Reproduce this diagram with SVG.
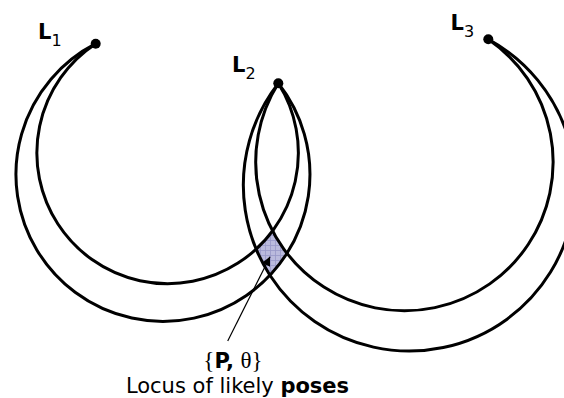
<svg xmlns="http://www.w3.org/2000/svg" width="564" height="398" viewBox="0 0 564 398">
<style>
.arc{fill:none;stroke:#000;stroke-width:3}
.dot{fill:#000}
.lbl{font-family:"DejaVu Sans",Verdana,sans-serif;font-size:21px;font-weight:bold;fill:#000}
.sub{font-weight:normal;font-size:16px}
.cap{font-family:"DejaVu Sans",Verdana,sans-serif;font-size:21px;fill:#000}
.serif{font-family:"Liberation Serif","Times New Roman",serif;font-weight:normal;font-size:23px}
.b{font-weight:bold}
</style>
<defs>
<pattern id="hatch" width="5" height="5" patternUnits="userSpaceOnUse">
<rect width="5" height="5" fill="#babadd"/>
<path d="M0 0.5H5M0.5 0V5" stroke="#9898c8" stroke-width="0.8"/>
</pattern>
<clipPath id="clipA"><path clip-rule="evenodd" d="M15.95 174.4a147 147 0 1 0 294 0a147 147 0 1 0 -294 0ZM36.85 152.9a130.75 130.75 0 1 0 261.5 0a130.75 130.75 0 1 0 -261.5 0Z"/></clipPath>
<clipPath id="clipB"><path clip-rule="evenodd" d="M243.3 185.1a165.9 165.9 0 1 0 331.8 0a165.9 165.9 0 1 0 -331.8 0ZM255.7 162.1a148.7 148.7 0 1 0 297.4 0a148.7 148.7 0 1 0 -297.4 0Z"/></clipPath>
<marker id="ah" viewBox="0 0 10 10" refX="10" refY="5" markerWidth="9" markerHeight="9" markerUnits="userSpaceOnUse" orient="auto">
<path d="M0 0L10 5L0 10Z" fill="#000"/>
</marker>
</defs>
<g id="locus">
<g clip-path="url(#clipA)"><rect x="240" y="220" width="60" height="70" fill="url(#hatch)" clip-path="url(#clipB)"/></g>
</g>
<g id="connectors">
<path class="arc" d="M95.7 43.7A147 147 0 1 0 278.3 83.3"/>
<path class="arc" d="M95.7 43.7A130.75 130.75 0 1 0 278.3 83.3"/>
<path class="arc" d="M278.3 83.3A165.9 165.9 0 1 0 488.3 39.3"/>
<path class="arc" d="M278.3 83.3A148.7 148.7 0 1 0 488.3 39.3"/>
<line x1="227.7" y1="341" x2="270" y2="256.7" stroke="#000" stroke-width="1.2" marker-end="url(#ah)"/>
</g>
<g id="L1">
<circle class="dot" cx="95.7" cy="43.7" r="5"/>
<text class="lbl" x="38" y="38.5">L<tspan class="sub" dy="7">1</tspan></text>
</g>
<g id="L2">
<circle class="dot" cx="278.3" cy="83.3" r="5"/>
<text class="lbl" x="232" y="71.7">L<tspan class="sub" dy="7.5">2</tspan></text>
</g>
<g id="L3">
<circle class="dot" cx="488.3" cy="39.3" r="5"/>
<text class="lbl" x="450.5" y="30">L<tspan class="sub" dy="7">3</tspan></text>
</g>
<g id="label">
<text class="cap" x="233" y="368" text-anchor="middle"><tspan class="serif">{</tspan><tspan class="b">P,</tspan> <tspan class="serif">θ}</tspan></text>
<text class="cap" x="237.5" y="393" text-anchor="middle">Locus of likely <tspan class="b">poses</tspan></text>
</g>
</svg>
